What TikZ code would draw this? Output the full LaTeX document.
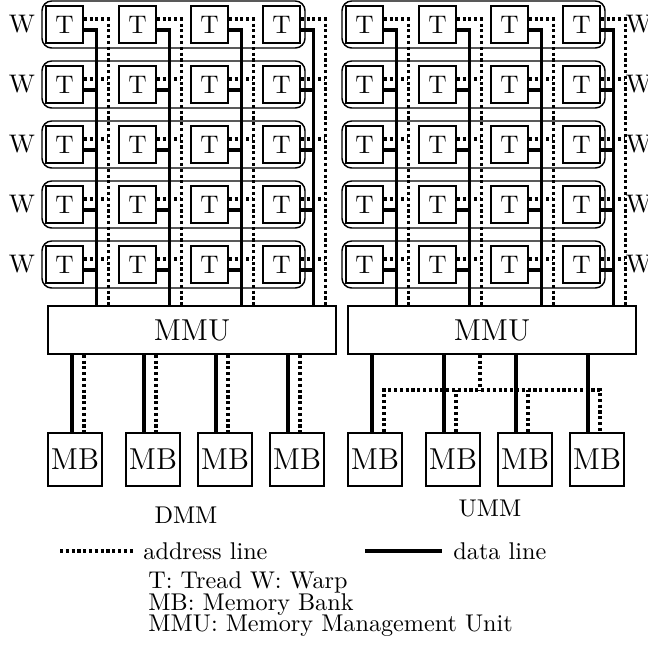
\documentclass[tikz,border=0pt]{standalone}
\usetikzlibrary{calc}
\def\pxu{0.4133pt}
\tikzset{
  tbox/.style={draw, line width=0.6pt, minimum size=37*\pxu, inner sep=0pt, font=\fontsize{10.5}{12}\selectfont},
  warpbox/.style={draw, line width=0.6pt, rounded corners=4pt, minimum width=263*\pxu, minimum height=47*\pxu, inner sep=0pt},
  mmubox/.style={draw, line width=0.6pt, minimum width=288*\pxu, minimum height=48*\pxu, inner sep=0pt, font=\fontsize{12.5}{14}\selectfont},
  mbbox/.style={draw, line width=0.6pt, minimum width=54*\pxu, minimum height=53*\pxu, inner sep=0pt, font=\fontsize{12.5}{14}\selectfont},
  dataline/.style={line width=1.4pt},
  addrline/.style={line width=1.3pt, dash pattern=on 1.3pt off 1.1pt},
  wlabel/.style={font=\fontsize{10.5}{12}\selectfont, inner sep=0pt},
  legtext/.style={font=\fontsize{10}{9}\selectfont, inner sep=0pt},
}
\begin{document}
\begin{tikzpicture}[x=0.4133pt, y=-0.4133pt]
\useasboundingbox (0,0) rectangle (647,648);
\foreach \side/\sx in {D/0,U/300} {
  \foreach \i in {1,...,5} {
    \node[warpbox] (w\side\i) at (173.5+\sx, -35.5+60*\i) {};
    \foreach \j/\tx in {1/64.5,2/137.5,3/209.5,4/281.5} {
      \node[tbox] (t\side\i-\j) at (\tx+\sx, -35.5+60*\i) {T};
    }
  }
  \node[mmubox] (mmu\side) at (192+\sx, 330) {MMU};
  \foreach \k/\mx in {1/75,2/153,3/225,4/297} {
    \node[mbbox] (mb\side\k) at (\mx+\sx, 459.5) {MB};
  }
  \foreach \j in {1,...,4} {
    \coordinate (dx\side\j) at ($(t\side1-\j.east)+(13,0)$);
    \coordinate (ax\side\j) at ($(t\side1-\j.east)+(24.5,0)$);
    \draw[dataline] ($(t\side1-\j.east)+(0,5.5)$) -| (dx\side\j |- mmu\side.north);
    \draw[addrline] ($(t\side1-\j.east)+(0,-5.5)$) -| (ax\side\j |- mmu\side.north);
    \foreach \i in {2,...,5} {
      \draw[dataline] ($(t\side\i-\j.east)+(0,5.5)$) -- ($(t\side\i-\j.east)+(13,5.5)$);
      \draw[addrline] ($(t\side\i-\j.east)+(0,-5.5)$) -- ($(t\side\i-\j.east)+(24.5,-5.5)$);
    }
  }
  \foreach \k/\lx in {1/72,2/144,3/216,4/288} {
    \coordinate (ld\side\k) at (\lx+\sx, 0);
    \coordinate (la\side\k) at (\lx+12+\sx, 0);
    \draw[dataline] (mmu\side.south -| ld\side\k) -- (mb\side\k.north -| ld\side\k);
  }
}
% W labels
\foreach \i in {1,...,5} {
  \node[wlabel] (wlD\i) at (22, -35.5+60*\i) {W};
  \node[wlabel] (wlU\i) at (639, -35.5+60*\i) {W};
}
% DMM address lines to memory banks
\foreach \k in {1,...,4} {
  \draw[addrline] (mmuD.south -| laD\k) -- (mbD\k.north -| laD\k);
}
% UMM shared address bus
\coordinate (bus) at (0,390);
\coordinate (hub) at (480,0);
\draw[addrline] (mmuU.south -| hub) -- (hub |- bus);
\draw[addrline] (mbU1.north -| laU1) -- (laU1 |- bus) -- (laU4 |- bus) -- (mbU4.north -| laU4);
\draw[addrline] (mbU2.north -| laU2) -- (laU2 |- bus);
\draw[addrline] (mbU3.north -| laU3) -- (laU3 |- bus);
% captions
\node[legtext] (dmm) at (186,515) {DMM};
\node[legtext] (umm) at (490,508) {UMM};
% legend
\coordinate (a1) at (60,551);
\coordinate (a2) at (134,551);
\draw[addrline] (a1) -- (a2);
\node[legtext, anchor=west] (alab) at (143,551) {address line};
\coordinate (d1) at (365,551);
\coordinate (d2) at (442,551);
\draw[dataline] (d1) -- (d2);
\node[legtext, anchor=west] (dlab) at (453,551) {data line};
\node[legtext, anchor=north west, align=left] (keys) at (148,571) {T: Tread W: Warp\\MB: Memory Bank\\MMU: Memory Management Unit};
\end{tikzpicture}
\end{document}
